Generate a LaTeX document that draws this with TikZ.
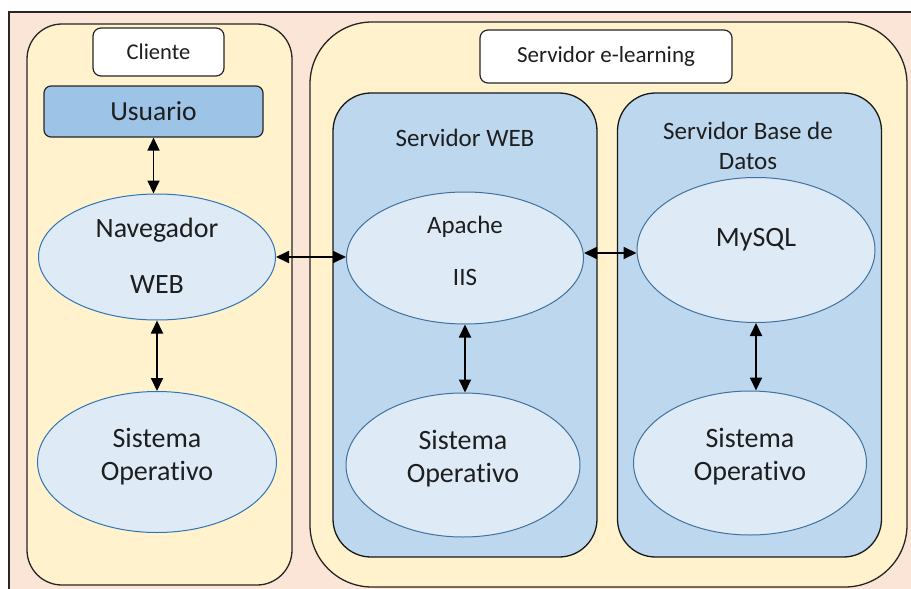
\documentclass[tikz,border=0pt]{standalone}
\usepackage{fontspec}
\setmainfont{Carlito}[Ligatures=NoCommon]
\usetikzlibrary{shapes.geometric,arrows.meta}
\definecolor{bgpink}{HTML}{FBE5D6}
\definecolor{cream}{HTML}{FFF2CC}
\definecolor{usr}{HTML}{9DC3E6}
\definecolor{srv}{HTML}{BDD7EE}
\definecolor{ellfill}{HTML}{DEEBF7}
\definecolor{ellsrv}{HTML}{41719C}
\definecolor{ellcli}{HTML}{2E75B6}
\definecolor{txt}{HTML}{1E1E1E}
\begin{document}
\begin{tikzpicture}[x=1pt,y=-1pt,
  container/.style={draw=black!85, line width=1.3pt, fill=cream, inner sep=0pt},
  tagbox/.style={draw=black!85, line width=1.2pt, fill=white, rounded corners=8pt, inner sep=0pt, text=txt},
  srvbox/.style={draw=black!90, line width=1.3pt, fill=srv, rounded corners=38pt, inner sep=0pt, minimum width=264pt, minimum height=464pt},
  ellnode/.style={ellipse, draw=ellsrv, line width=1pt, fill=ellfill, inner sep=0pt, text=txt, align=center},
  lbl/.style={text=txt, inner sep=0pt, align=center},
  conn/.style={line width=1.8pt, {Triangle[length=13pt,width=12pt]}-{Triangle[length=13pt,width=12pt]}}
]
\useasboundingbox (0,0) rectangle (911,589);
% outer frame
\draw[fill=bgpink, draw=black!85, line width=1.2pt] (9,12) rectangle (918,598);

% containers
\node[container, rounded corners=35pt, minimum width=265pt, minimum height=561pt] (cli) at (159.5,304.5) {};
\node[container, rounded corners=62pt, minimum width=597pt, minimum height=565pt] (srvall) at (608.5,304.5) {};

% tags
\node[tagbox, minimum width=131pt, minimum height=48pt, font=\fontsize{22.5}{27}\selectfont] (tcli) at (158.5,52) {Cliente};
\node[tagbox, minimum width=252pt, minimum height=53pt, font=\fontsize{23}{28}\selectfont] (tsrv) at (606,56.5) {Servidor e-learning};

% Usuario
\node[draw=black!85, line width=1.2pt, fill=usr, rounded corners=7pt, inner sep=0pt,
      minimum width=219pt, minimum height=51pt, text=txt, font=\fontsize{27.5}{33}\selectfont] (usr) at (153.5,111.5) {Usuario};

% server boxes
\node[srvbox] (web) at (465,325) {};
\node[srvbox] (db) at (749.5,325) {};
\node[lbl, font=\fontsize{25}{30}\selectfont] (tweb) at (465,138) {Servidor WEB};
\node[lbl, font=\fontsize{25}{30}\selectfont] (tdb) at (748,146) {Servidor Base de\\[-0.5pt]Datos};

% ellipses
\node[ellnode, draw=ellcli, minimum width=237pt, minimum height=126pt] (nav) at (157,257) {};
\node[lbl, font=\fontsize{28}{34}\selectfont] (tnav) at (157,256) {Navegador\\[22pt]WEB};
\node[ellnode, draw=ellcli, minimum width=239pt, minimum height=141pt] (so1) at (157,462) {};
\node[lbl, font=\fontsize{28}{33}\selectfont] (tso1) at (157,457) {Sistema\\Operativo};

\node[ellnode, minimum width=237pt, minimum height=132pt] (apache) at (465,258) {};
\node[lbl, font=\fontsize{25}{30}\selectfont] (tapache) at (465,251) {Apache\\[22pt]IIS};
\node[ellnode, minimum width=238pt, minimum height=145pt] (mysql) at (756,250) {};
\node[lbl, font=\fontsize{28}{34}\selectfont] (tmysql) at (756,240) {MySQL};

\node[ellnode, minimum width=234pt, minimum height=144pt] (sow) at (463,465) {};
\node[lbl, font=\fontsize{28}{33}\selectfont] (tsow) at (463,459) {Sistema\\Operativo};
\node[ellnode, minimum width=233pt, minimum height=144pt] (sodb) at (750,463) {};
\node[lbl, font=\fontsize{28}{33}\selectfont] (tsodb) at (750,457) {Sistema\\Operativo};

% connectors
\draw[conn] (usr.south) -- (usr.south |- nav.north);
\draw[conn] (nav.south) -- (so1.north);
\draw[conn] (nav.east) -- (nav.east -| apache.west);
\draw[conn] ([yshift=5pt]apache.east) -- ([yshift=5pt]apache.east -| mysql.west);
\draw[conn] (apache.south) -- (apache.south |- sow.north);
\draw[conn] (mysql.south) -- (mysql.south |- sodb.north);
\end{tikzpicture}
\end{document}
